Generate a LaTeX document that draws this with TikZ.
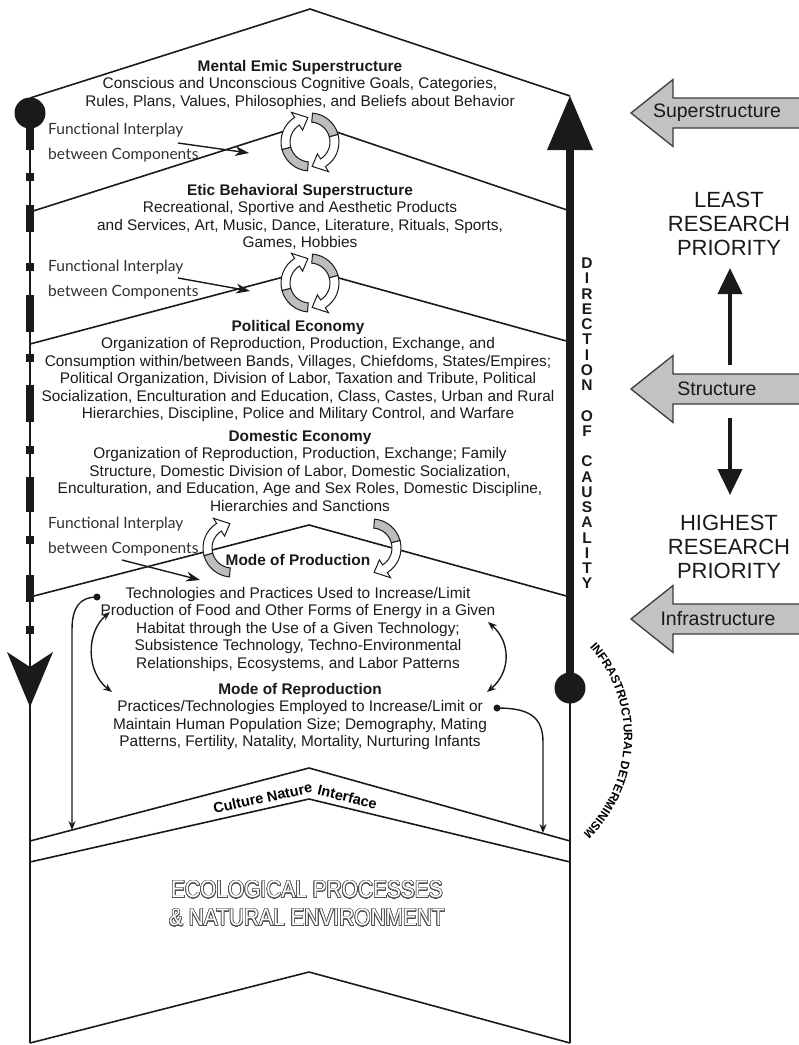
\documentclass[tikz,border=0pt]{standalone}
\usepackage{fontspec}
\setmainfont{Liberation Sans}
\newfontfamily\humfont{Lato}
\usepackage{graphicx}
\usepackage{contour}
\contourlength{0.7pt}
\contournumber{32}
\usetikzlibrary{arrows.meta,decorations.text}
\definecolor{ink}{HTML}{1A1A1A}
\definecolor{icongray}{HTML}{BDBDBD}
\definecolor{arrowgray}{HTML}{C2C2C2}
\definecolor{outl}{HTML}{505050}
\newcommand\grayarrowshape[1]{%
  \fill[arrowgray] (631,#1) -- (673,#1-33.5) -- (673,#1-15) -- (799,#1-15) -- (799,#1+15) -- (673,#1+15) -- (673,#1+33.5) -- cycle;
  \draw[line width=1.3pt, ink!85, line join=miter] (799,#1-15) -- (673,#1-15) -- (673,#1-33.5) -- (631,#1) -- (673,#1+33.5) -- (673,#1+15) -- (799,#1+15);
}
\begin{document}
\begin{tikzpicture}[x=1pt,y=-1pt,
  chev/.style={line width=1.6pt, draw=ink, line join=miter},
  txt/.style={font=\fontsize{15.4}{17.5}\selectfont, align=center, inner sep=0pt, text=ink},
  fi/.style={font=\humfont\fontsize{15.5}{25}\selectfont, align=left, inner sep=0pt, text=ink!90, anchor=west},
  fiarrow/.style={line width=1.4pt, draw=ink, -{Stealth[length=14pt,width=10pt]}},
  small/.style={line width=1.4pt, draw=ink, -{Stealth[length=9pt,width=7pt]}},
  dsmall/.style={line width=1.4pt, draw=ink, {Stealth[length=9pt,width=7pt]}-{Stealth[length=9pt,width=7pt]}},
  sidetxt/.style={font=\fontsize{19.5}{20}\selectfont, text=ink, inner sep=0pt},
  prio/.style={font=\fontsize{22}{24}\selectfont, align=center, text=ink, inner sep=0pt},
  ringbg/.pic={\fill[white] (0,0) circle[radius=29];},
  ringL/.pic={
    \begin{scope}[line width=1pt, draw=ink]
      \filldraw[fill=icongray] (95:29) arc[start angle=95,end angle=165,radius=29] -- (165:20) arc[start angle=165,end angle=95,radius=20] -- cycle;
      \filldraw[fill=white] (165:29) arc[start angle=165,end angle=238,radius=29] -- (238:35) -- (265:24.5) -- (238:14) -- (238:20) arc[start angle=238,end angle=165,radius=20] -- cycle;
    \end{scope}},
  ringR/.pic={
    \begin{scope}[line width=1pt, draw=ink]
      \filldraw[fill=icongray] (-85:29) arc[start angle=-85,end angle=-15,radius=29] -- (-15:20) arc[start angle=-15,end angle=-85,radius=20] -- cycle;
      \filldraw[fill=white] (-15:29) arc[start angle=-15,end angle=58,radius=29] -- (58:35) -- (85:24.5) -- (58:14) -- (58:20) arc[start angle=58,end angle=-15,radius=20] -- cycle;
    \end{scope}}
]
\useasboundingbox (0,0) rectangle (799,1045);

% ---- chevrons (house outline and layer borders)
\draw[chev] (30,98) -- (310,9) -- (570,96);
\draw[chev] (30,212) -- (310,123) -- (570,211);
\draw[chev] (30,344) -- (310,270) -- (570,342);
\draw[chev] (30,597) -- (309,525) -- (570,597);
\draw[chev] (30,841) -- (309,768) -- (570,841);
\draw[chev] (30,862) -- (309,799) -- (570,862);
\draw[chev] (30,1043) -- (309,972) -- (570,1043);

% ---- left edge: dashed descending line
\draw[line width=2.6pt, ink] (30,113) -- (30,680);
\foreach \a/\b in {113/150,205/232,295/332,385/422,477/512,575/602}
  \draw[line width=8pt, ink] (30,\a) -- (30,\b);
\foreach \y in {177,267,358,450,540,630}
  \fill[ink] (26,\y-4) rectangle (34,\y+4);
\fill[ink] (30,113) circle[radius=15.5];
\fill[ink] (30,707) -- (7,652) -- (30,667) -- (53,652) -- cycle;
\draw[line width=1.8pt, ink] (30,700) -- (30,1043);

% ---- right edge: direction of causality
\draw[line width=8pt, ink] (570,145) -- (570,688);
\fill[ink] (570,96) -- (547,150) -- (593,150) -- cycle;
\fill[ink] (570,688) circle[radius=15.5];
\draw[line width=1.2pt, ink] (570,688) -- (570,1043);
\foreach \ch [count=\i from 0] in {D,I,R,E,C,T,I,O,N,{},O,F,{},C,A,U,S,A,L,I,T,Y}
  \node[font=\fontsize{15.5}{15.5}\selectfont\bfseries, text=ink, inner sep=0pt, anchor=base] (dc\i) at (587,263+15.25*\i+5.7) {\ch};

% ---- interplay icons
\pic at (310,142) {ringbg};
\pic at (310,142) {ringL};
\pic at (310,142) {ringR};
\pic at (310,283) {ringbg};
\pic at (310,283) {ringL};
\pic at (310,283) {ringR};
\pic at (232,548) {ringL};
\pic at (372,548) {ringR};

% ---- layer texts
\node[txt] (mental) at (300,85) {\textbf{Mental Emic Superstructure}\\Conscious and Unconscious Cognitive Goals, Categories,\\Rules, Plans, Values, Philosophies, and Beliefs about Behavior};
\node[txt] (etic) at (300,217) {\textbf{Etic Behavioral Superstructure}\\Recreational, Sportive and Aesthetic Products\\and Services, Art, Music, Dance, Literature, Rituals, Sports,\\Games, Hobbies};
\node[txt] (polit) at (298,371) {\textbf{Political Economy}\\Organization of Reproduction, Production, Exchange, and\\Consumption within/between Bands, Villages, Chiefdoms, States/Empires;\\Political Organization, Division of Labor, Taxation and Tribute, Political\\Socialization, Enculturation and Education, Class, Castes, Urban and Rural\\Hierarchies, Discipline, Police and Military Control, and Warfare};
\node[txt] (domes) at (300,470.5) {\textbf{Domestic Economy}\\Organization of Reproduction, Production, Exchange; Family\\Structure, Domestic Division of Labor, Domestic Socialization,\\Enculturation, and Education, Age and Sex Roles, Domestic Discipline,\\Hierarchies and Sanctions};
\node[txt] (mop) at (298,560) {\textbf{Mode of Production}};
\node[txt] (moptext) at (298,629.5) {Technologies and Practices Used to Increase/Limit\\Production of Food and Other Forms of Energy in a Given\\Habitat through the Use of a Given Technology;\\Subsistence Technology, Techno-Environmental\\Relationships, Ecosystems, and Labor Patterns};
\node[txt] (mor) at (300,716.5) {\textbf{Mode of Reproduction}\\Practices/Technologies Employed to Increase/Limit or\\Maintain Human Population Size; Demography, Mating\\Patterns, Fertility, Natality, Mortality, Nurturing Infants};

% ---- functional interplay labels
\node[fi] (fi1) at (48,142.5) {Functional Interplay\\between Components};
\node[fi] (fi2) at (48,279.5) {Functional Interplay\\between Components};
\node[fi] (fi3) at (48,537) {Functional Interplay\\between Components};
\coordinate (fa1s) at (178,143); \coordinate (fa1e) at (249,153);
\coordinate (fa2s) at (178,278); \coordinate (fa2e) at (250,291);
\coordinate (fa3s) at (122,560); \coordinate (fa3e) at (200,580);
\draw[fiarrow] (fa1s) -- (fa1e);
\draw[fiarrow] (fa2s) -- (fa2e);
\draw[fiarrow] (fa3s) -- (fa3e);

% ---- infrastructure arrows
\coordinate (dotL) at (97,597);
\coordinate (dotR) at (497,708);
\coordinate (tipL) at (72,830);
\coordinate (tipR) at (543,833);
\fill[ink] (dotL) circle[radius=3.5];
\fill[ink] (dotR) circle[radius=3.5];
\draw[small] (dotL) .. controls (80,597) and (72,607) .. (72,630) -- (tipL);
\draw[small] (dotR) .. controls (528,708) and (543,716) .. (543,742) -- (tipR);
\coordinate (dl1) at (110,612); \coordinate (dl2) at (112,692);
\coordinate (dr1) at (488,622); \coordinate (dr2) at (487,692);
\draw[dsmall] (dl1) .. controls (86,632) and (86,672) .. (dl2);
\draw[dsmall] (dr1) .. controls (511,642) and (511,672) .. (dr2);

% ---- culture nature interface
\path[decorate, decoration={text along path, text={|\fontsize{14.5}{14.5}\selectfont\bfseries|Culture Nature Interface}, text align=center}] (165,825) -- (309,793) -- (425,821);

% ---- ecological processes
\node[inner sep=0pt, align=center, font=\fontsize{24}{28}\selectfont] (eco) at (307,904)
  {\scalebox{0.87}[1]{\contour{outl}{\textcolor{white}{ECOLOGICAL PROCESSES}}}\\
   \scalebox{0.87}[1]{\contour{outl}{\textcolor{white}{\& NATURAL ENVIRONMENT}}}};

% ---- infrastructural determinism
\path[decorate, decoration={text along path, text={|\fontsize{12}{12}\selectfont\bfseries|INFRASTRUCTURAL DETERMINISM}, text align=center}]
  (490,737) ++(-48:134) arc[start angle=-48, end angle=52, radius=134];

% ---- right column
\grayarrowshape{113}
\grayarrowshape{389}
\grayarrowshape{619}
\node[sidetxt] (sup) at (717,113) {Superstructure};
\node[sidetxt] (str) at (717,389) {Structure};
\node[sidetxt] (inf) at (718,619) {Infrastructure};
\node[prio] (least) at (729,224) {LEAST\\RESEARCH\\PRIORITY};
\node[prio] (highest) at (729,547) {HIGHEST\\RESEARCH\\PRIORITY};
\coordinate (upS) at (730,365); \coordinate (upE) at (730,268);
\coordinate (dnS) at (730,418); \coordinate (dnE) at (730,495);
\draw[line width=4pt, ink, -{Triangle[length=26pt,width=24pt]}] (upS) -- (upE);
\draw[line width=4pt, ink, -{Triangle[length=26pt,width=24pt]}] (dnS) -- (dnE);
\end{tikzpicture}
\end{document}
